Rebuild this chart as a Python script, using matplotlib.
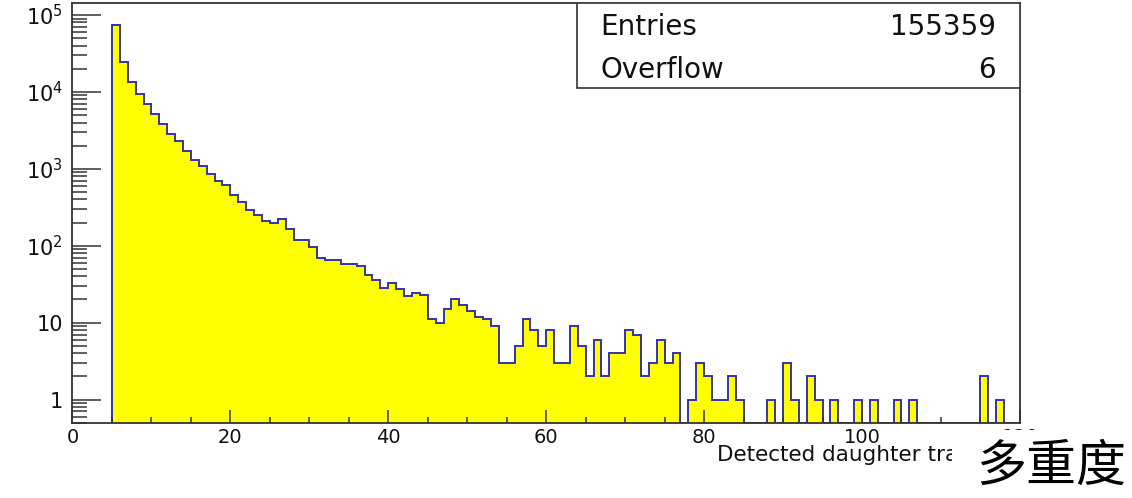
import numpy as np
import matplotlib
matplotlib.use('Agg')
import matplotlib.pyplot as plt
from matplotlib.patches import Rectangle
from matplotlib.ticker import MultipleLocator, LogLocator, NullFormatter

# bin edges 5..120, width 1
bin_lo = 5
bin_hi = 120
counts = [
    74000, 24300, 13600, 9400, 7000, 5200, 3850, 2850, 2270, 1730,   # 5-14
    1310, 1100, 860, 685, 620, 460, 375, 295, 253, 211,              # 15-24
    197, 224, 166, 120, 120, 95, 70, 66, 66, 58,                     # 25-34
    58, 55, 42, 36, 28, 33, 27, 22, 24, 23,                          # 35-44
    11, 10, 15, 20, 17, 14, 12, 11, 9, 3,                            # 45-54
    3, 5, 11, 8, 5, 8, 3, 3, 9, 5,                                   # 55-64
    2, 6, 2, 4, 4, 8, 7, 2, 3, 6,                                    # 65-74
    3, 4, 0, 1, 3, 2, 1, 1, 2, 1,                                    # 75-84
    0, 0, 0, 1, 0, 3, 1, 0, 2, 1,                                    # 85-94
    0, 1, 0, 0, 1, 0, 1, 0, 0, 1,                                    # 95-104
    0, 1, 0, 0, 0, 0, 0, 0, 0, 0,                                    # 105-114
    2, 0, 1, 0, 0,                                                   # 115-119
]
entries = '155359'
overflow = '6'
x_title = 'Detected daughter tracks'
y_ticks = [1, 10, 100, 1000, 10000, 100000]
y_ticklabels = ['1', '10', r'$\mathregular{10^{2}}$', r'$\mathregular{10^{3}}$',
                r'$\mathregular{10^{4}}$', r'$\mathregular{10^{5}}$']
note = '多重度'

YMIN = 0.5
YMAX = 1.42e5
FILL = '#ffff00'
LINE = '#3434a8'
DARK = '#333333'


def draw():
    fig = plt.figure(figsize=(11.32, 4.98), dpi=100)
    ax = fig.add_axes([0.064, 0.1512, 0.837, 0.8422])

    edges = np.arange(bin_lo, bin_hi + 1)
    c = np.array(counts, dtype=float)
    shown = np.where(c > 0, c, YMIN)

    ax.stairs(shown, edges, baseline=YMIN, fill=True, color=FILL, lw=0)
    ax.stairs(shown, edges, baseline=YMIN, color=LINE, lw=1.4)

    ax.set_yscale('log')
    ax.set_xlim(0, 120)
    ax.set_ylim(YMIN, YMAX)

    ax.xaxis.set_major_locator(MultipleLocator(20))
    ax.xaxis.set_minor_locator(MultipleLocator(5))
    ax.set_yticks(y_ticks)
    ax.set_yticklabels(y_ticklabels)
    ax.yaxis.set_minor_locator(LogLocator(base=10, subs=np.arange(2, 10)))
    ax.yaxis.set_minor_formatter(NullFormatter())

    ax.tick_params(axis='both', which='both', direction='in', color=DARK, width=1.1,
                   labelsize=14, labelcolor='#111111')
    ax.tick_params(axis='y', which='major', length=21, pad=7, labelsize=15)
    ax.tick_params(axis='y', which='minor', length=11)
    ax.tick_params(axis='x', which='major', length=9.5, pad=4)
    ax.tick_params(axis='x', which='minor', length=4.5)
    ax.tick_params(top=False, right=False, which='both')

    for s in ax.spines.values():
        s.set_color(DARK)
        s.set_linewidth(1.3)

    ax.set_xlabel(x_title, fontsize=15.5, color='#111111', ha='left')
    ax.xaxis.set_label_coords(0.68, -0.054)
    ax.xaxis.label.set_va('top')

    # stats box
    ax.add_patch(Rectangle((0.5325, 0.7988), 0.4675, 0.2012, transform=ax.transAxes,
                           facecolor='white', edgecolor=DARK, lw=1.2, zorder=5))
    for label, value, yy in [('Entries', entries, 0.944), ('Overflow', overflow, 0.840)]:
        ax.text(0.557, yy, label, transform=ax.transAxes, fontsize=20,
                ha='left', va='center', color='#111111', zorder=6)
        ax.text(0.9747, yy, value, transform=ax.transAxes, fontsize=20,
                ha='right', va='center', color='#111111', zorder=6)

    # white label pasted over the bottom-right corner
    fig.patches.append(Rectangle((952 / 1132, 0), 1 - 952 / 1132, 68 / 498,
                                 transform=fig.transFigure, facecolor='white',
                                 edgecolor='none', zorder=5))
    fig.text(0.9285, 0.062, note, fontsize=36, family=['Noto Sans CJK SC', 'DejaVu Sans'],
             weight='light', ha='center', va='center', color='black', zorder=6)

    fig.savefig('out.png', dpi=100)
    plt.close(fig)


def main():
    draw()


if __name__ == '__main__':
    main()
